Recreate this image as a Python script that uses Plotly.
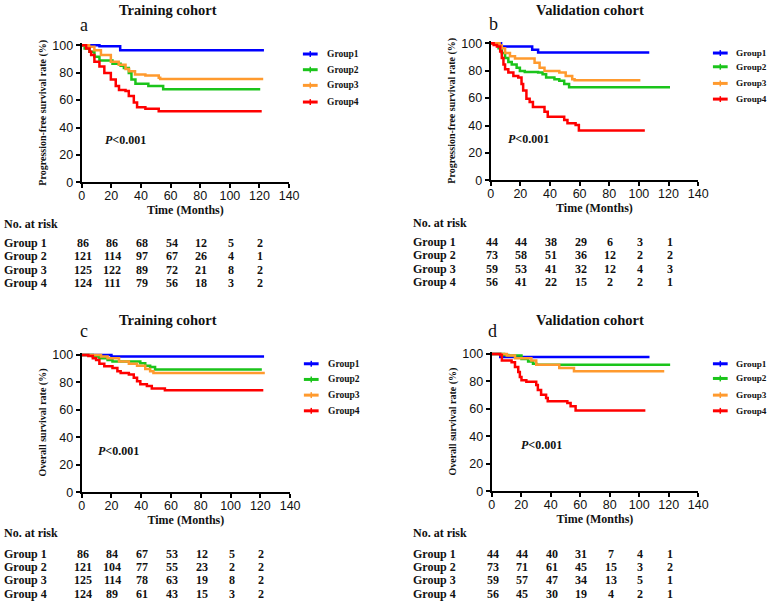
import plotly.graph_objects as go

W, H = 777, 607

group_names = ["Group1", "Group2", "Group3", "Group4"]
row_labels = ["Group 1", "Group 2", "Group 3", "Group 4"]
colors = ["#0000FF", "#1BC41B", "#FF9A2E", "#FF0000"]

# ---------------- Panel a: PFS, training cohort ----------------
a_g1_t = [0, 12, 26, 123]
a_g1_s = [100, 99.3, 96.4, 96.4]
a_g2_t = [0, 2, 5.3, 8.6, 12, 20.8, 26.3, 28.5, 31.8, 33.6, 36.3, 45, 55, 120.5]
a_g2_s = [100, 97.6, 95.2, 91.6, 88.8, 86.4, 85, 83.3, 79.8, 75, 71.9, 70.2, 67.9, 67.9]
a_g3_t = [0, 5, 8.6, 13, 19.7, 25, 29.6, 32, 36, 43, 52, 53, 122.5]
a_g3_s = [100, 98.8, 96.4, 92.9, 88, 85.7, 82.6, 81, 78.6, 77.9, 76.2, 75.4, 75.4]
a_g4_t = [0, 3, 5.3, 6.4, 8.6, 12, 15.3, 19.7, 23, 25.2, 29.6, 31.8, 35.2, 37.4, 43, 52, 121.5]
a_g4_s = [100, 97.6, 95.2, 92.9, 88, 84.5, 79.8, 75, 70.2, 67.4, 66.7, 63, 58.3, 54.8, 53.6, 51.9, 51.9]

# ---------------- Panel b: PFS, validation cohort ----------------
b_g1_t = [0, 7, 28, 32, 107]
b_g1_s = [100, 97.7, 95.3, 93.3, 93.3]
b_g2_t = [0, 5.3, 7.5, 9.7, 11.9, 14.2, 17.5, 19.7, 23, 32, 35, 37.4, 43, 46.3, 49.6, 52.9, 121]
b_g2_s = [100, 96.4, 92.9, 89.3, 86.4, 84.5, 82.1, 79.8, 79, 78.6, 77.4, 75, 73.8, 72.6, 70.2, 67.9, 67.9]
b_g3_t = [0, 6, 7.5, 9.7, 13, 16.4, 27.4, 29.6, 33, 36.3, 46.3, 50.6, 55, 56.6, 101]
b_g3_s = [100, 98.3, 96.4, 92.9, 90.5, 88.8, 88.8, 85.7, 82.1, 79.8, 78.6, 76.2, 73.8, 73, 73]
b_g4_t = [0, 2, 4.2, 6.4, 7.5, 8.6, 9.7, 11.9, 15.3, 18.6, 20.8, 21.9, 24.1, 26.3, 28.5, 34,
          36.3, 38.5, 49.6, 51.8, 57.3, 59.5, 104]
b_g4_s = [100, 98.8, 97.6, 94, 89.3, 84.5, 81, 78.6, 76.2, 75, 70.2, 65.5, 59.5, 57.1, 53.6, 53.6,
          50, 46.4, 44, 41.7, 40.5, 36.4, 36.4]

# ---------------- Panel c: OS, training cohort ----------------
c_g1_t = [0, 20, 122.5]
c_g1_s = [100, 98.8, 98.8]
c_g2_t = [0, 7.5, 11.9, 17.4, 20.7, 39.4, 42.7, 46, 49.3, 121]
c_g2_s = [100, 98.8, 97.6, 96.4, 95.2, 94, 92.1, 91.2, 89.3, 89.3]
c_g3_t = [0, 13, 17.4, 25.1, 31.7, 37.2, 42.7, 46, 48.2, 123]
c_g3_s = [100, 98.8, 97.6, 95.2, 93.6, 92.1, 89.8, 88.1, 86.9, 86.9]
c_g4_t = [0, 4.5, 7.5, 9.7, 11.9, 15.2, 20.7, 24, 26.2, 31.7, 35, 37.2, 39.4, 43.8, 47.1, 55.9, 122]
c_g4_s = [100, 99.3, 97.6, 96.4, 93.6, 91.7, 90.5, 88.1, 86.9, 85.7, 83.3, 80.9, 78.6, 77.4, 75.5, 74.3, 74.3]

# ---------------- Panel d: OS, validation cohort ----------------
d_g1_t = [0, 5.8, 107]
d_g1_s = [100, 97.7, 97.7]
d_g2_t = [0, 8.4, 11.3, 20.2, 24.7, 28, 30.2, 121]
d_g2_s = [100, 99.3, 98.8, 96.4, 94.5, 92.9, 92.1, 92.1]
d_g3_t = [0, 10.2, 15.8, 26.9, 30.2, 45.8, 55.8, 117]
d_g3_s = [100, 98.8, 96.9, 95.2, 92.1, 89.8, 87.4, 87.4]
d_g4_t = [0, 5.8, 6.9, 13.5, 15.8, 18, 19.1, 20.2, 23.5, 30.2, 31.3, 33.5, 36.9, 38, 51.3, 53.5, 56.9, 104.2]
d_g4_s = [100, 99.3, 95.2, 94, 90.5, 86.9, 83.3, 80.9, 79.8, 77.4, 73.8, 70.2, 67.9, 65.5, 64.3, 61.9, 58.8, 58.8]

# ---------------- Numbers at risk ----------------
risk_times = [0, 20, 40, 60, 80, 100, 120]
risk_a = [[86, 86, 68, 54, 12, 5, 2], [121, 114, 97, 67, 26, 4, 1],
          [125, 122, 89, 72, 21, 8, 2], [124, 111, 79, 56, 18, 3, 2]]
risk_b = [[44, 44, 38, 29, 6, 3, 1], [73, 58, 51, 36, 12, 2, 2],
          [59, 53, 41, 32, 12, 4, 3], [56, 41, 22, 15, 2, 2, 1]]
risk_c = [[86, 84, 67, 53, 12, 5, 2], [121, 104, 77, 55, 23, 2, 2],
          [125, 114, 78, 63, 19, 8, 2], [124, 89, 61, 43, 15, 3, 2]]
risk_d = [[44, 44, 40, 31, 7, 4, 1], [73, 71, 61, 45, 15, 3, 2],
          [59, 57, 47, 34, 13, 5, 1], [56, 45, 30, 19, 4, 2, 1]]

x_ticks = [0, 20, 40, 60, 80, 100, 120, 140]
y_ticks = [0, 20, 40, 60, 80, 100]

titles = ["Training cohort", "Validation cohort", "Training cohort", "Validation cohort"]
letters = ["a", "b", "c", "d"]
y_titles = ["Progression-free survival rate (%)", "Progression-free survival rate (%)",
            "Overall survival rate (%)", "Overall survival rate (%)"]

SERIF = "Times New Roman, Liberation Serif, serif"
SANS = "Arial, Liberation Sans, sans-serif"


def px(x):
    return x / W


def py(y):
    return 1 - y / H


# layout geometry (pixels): x0, x140, y100, y0
panels = [
    dict(curves=[(a_g1_t, a_g1_s), (a_g2_t, a_g2_s), (a_g3_t, a_g3_s), (a_g4_t, a_g4_s)], risk=risk_a,
         box=(80, 291, 41, 181), title_xy=(168, 5), letter_xy=(77, 20), p_xy=(14.6, 30.7),
         leg_x=(305, 320, 328), leg_y=[50, 66, 82, 99], leg_size=9.5, row_x=0,
         risk_head_y=223, risk_rows=[243, 256.5, 270, 283.5]),
    dict(curves=[(b_g1_t, b_g1_s), (b_g2_t, b_g2_s), (b_g3_t, b_g3_s), (b_g4_t, b_g4_s)], risk=risk_b,
         box=(496, 707, 39, 179), title_xy=(597, 5), letter_xy=(493, 19), p_xy=(10.6, 30),
         leg_x=(722, 737, 744), leg_y=[49, 63, 80, 96], leg_size=9.2, row_x=416,
         risk_head_y=222, risk_rows=[242, 255.5, 269, 282.5]),
    dict(curves=[(c_g1_t, c_g1_s), (c_g2_t, c_g2_s), (c_g3_t, c_g3_s), (c_g4_t, c_g4_s)], risk=risk_c,
         box=(80, 292, 357, 497), title_xy=(168, 321), letter_xy=(77, 333), p_xy=(9.3, 30),
         leg_x=(306, 321, 330), leg_y=[366, 382, 398, 414], leg_size=9.5, row_x=0,
         risk_head_y=539, risk_rows=[560, 573.5, 587, 600.5]),
    dict(curves=[(d_g1_t, d_g1_s), (d_g2_t, d_g2_s), (d_g3_t, d_g3_s), (d_g4_t, d_g4_s)], risk=risk_d,
         box=(497, 707, 356, 496), title_xy=(597, 321), letter_xy=(492, 333), p_xy=(18.7, 34),
         leg_x=(722, 737, 744), leg_y=[366, 381, 398, 414], leg_size=9.2, row_x=416,
         risk_head_y=539, risk_rows=[560, 573.5, 587, 600.5]),
]

YMAX = 101.5

fig = go.Figure()
annotations = []
shapes = []
layout_axes = {}

for i, p in enumerate(panels):
    n = "" if i == 0 else str(i + 1)
    xa, ya = "x" + n, "y" + n
    x0, x1, y100, y0 = p["box"]
    ytop = y0 - (y0 - y100) * YMAX / 100.0
    layout_axes["xaxis" + n] = dict(
        domain=[px(x0), px(x1)], range=[0, 140], anchor=ya,
        tickvals=x_ticks, ticks="outside", ticklen=4, tickwidth=2, tickcolor="black",
        ticklabelstandoff=-3,
        showline=True, linewidth=2, linecolor="black", showgrid=False, zeroline=False,
        tickfont=dict(family=SANS, size=12.5, color="#111"),
        title=dict(text="<b>Time (Months)</b>", font=dict(family=SERIF, size=12, color="#111"), standoff=2),
    )
    layout_axes["yaxis" + n] = dict(
        domain=[py(y0), py(ytop)], range=[0, YMAX], anchor=xa,
        tickvals=y_ticks, ticks="outside", ticklen=4, tickwidth=2, tickcolor="black",
        showline=True, linewidth=2, linecolor="black", showgrid=False, zeroline=False,
        tickfont=dict(family=SANS, size=12.5, color="#111"),
        title=dict(text="<b>" + y_titles[i] + "</b>", font=dict(family=SERIF, size=10, color="#111"), standoff=4),
    )
    for g, (t, s) in enumerate(p["curves"]):
        fig.add_trace(go.Scatter(x=t, y=s, mode="lines", line=dict(color=colors[g], width=2.5, shape="hv"),
                                 xaxis=xa, yaxis=ya, showlegend=False, name=group_names[g]))
    # title and letter
    annotations.append(dict(text="<b>" + titles[i] + "</b>", x=px(p["title_xy"][0]), y=py(p["title_xy"][1]),
                            xref="paper", yref="paper", showarrow=False, xanchor="center", yanchor="middle",
                            borderpad=0, font=dict(family=SERIF, size=14.5, color="#111")))
    annotations.append(dict(text=letters[i], x=px(p["letter_xy"][0]), y=py(p["letter_xy"][1]),
                            xref="paper", yref="paper", showarrow=False, xanchor="left", yanchor="middle",
                            borderpad=0, font=dict(family=SERIF, size=18, color="#111")))
    # P value
    annotations.append(dict(text="<b><i>P</i>&lt;0.001</b>", x=p["p_xy"][0], y=p["p_xy"][1],
                            xref=xa, yref=ya, showarrow=False, xanchor="left", yanchor="middle",
                            font=dict(family=SERIF, size=12, color="#111")))
    # legend
    lx0, lx1, ltx = p["leg_x"]
    for g in range(4):
        yy = p["leg_y"][g]
        shapes.append(dict(type="line", xref="paper", yref="paper", x0=px(lx0), x1=px(lx1),
                           y0=py(yy), y1=py(yy), line=dict(color=colors[g], width=3)))
        shapes.append(dict(type="line", xref="paper", yref="paper", x0=px((lx0 + lx1) / 2), x1=px((lx0 + lx1) / 2),
                           y0=py(yy - 3), y1=py(yy + 3), line=dict(color=colors[g], width=1.5)))
        annotations.append(dict(text="<b>" + group_names[g] + "</b>", x=px(ltx), y=py(yy),
                                xref="paper", yref="paper", showarrow=False, xanchor="left", yanchor="middle",
                                borderpad=0, font=dict(family=SERIF, size=p["leg_size"], color="#111")))
    # numbers at risk
    annotations.append(dict(text="<b>No. at risk</b>", x=px(p["row_x"]), y=py(p["risk_head_y"]),
                            xref="paper", yref="paper", showarrow=False, xanchor="left", yanchor="middle",
                            borderpad=0, font=dict(family=SERIF, size=12, color="#111")))
    for g in range(4):
        yy = p["risk_rows"][g]
        annotations.append(dict(text="<b>" + row_labels[g] + "</b>", x=px(p["row_x"]), y=py(yy),
                                xref="paper", yref="paper", showarrow=False, xanchor="left", yanchor="middle",
                                borderpad=0, font=dict(family=SERIF, size=12, color="#111")))
        for k, tv in enumerate(risk_times):
            annotations.append(dict(text="<b>%d</b>" % p["risk"][g][k], x=tv, y=py(yy),
                                    xref=xa, yref="paper", showarrow=False, xanchor="center", yanchor="middle",
                                    xshift=1, font=dict(family=SERIF, size=12, color="#111")))

fig.update_layout(
    width=W, height=H, autosize=False,
    margin=dict(l=0, r=0, t=0, b=0),
    paper_bgcolor="white", plot_bgcolor="white",
    showlegend=False,
    annotations=annotations, shapes=shapes,
    **layout_axes,
)

post = (
    "document.documentElement.style.margin='0';"
    "document.documentElement.style.overflow='hidden';"
    "document.body.style.margin='0';"
    "document.body.style.overflow='hidden';"
    "var gd=document.getElementById('{plot_id}');"
    "gd.style.overflow='hidden';"
)

fig.write_html("out.html", post_script=post, config={"displayModeBar": False})
